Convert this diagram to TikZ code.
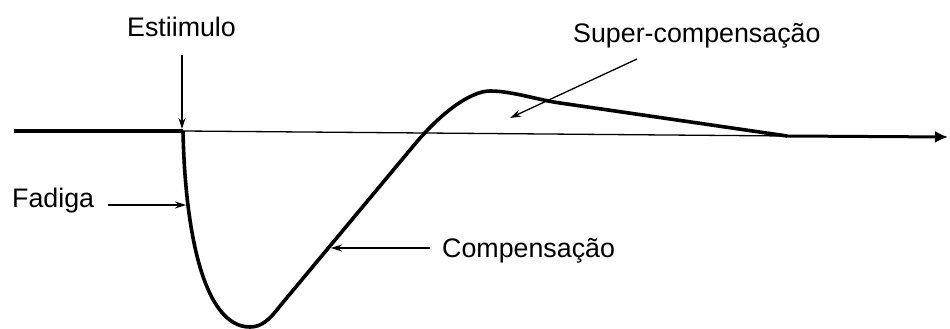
\documentclass[tikz,border=0pt]{standalone}
\usepackage{fontspec}
\setmainfont{Liberation Sans}
\usetikzlibrary{arrows.meta}
\begin{document}
\begin{tikzpicture}[x=1pt,y=1pt,
  lbl/.style={inner sep=0pt,font=\fontsize{26.8}{30}\selectfont},
  thin line/.style={line width=1.3pt,black},
  thick line/.style={line width=3.6pt,black,line join=round},
  pointer/.style={line width=1.3pt,-{Stealth[length=11pt,width=7pt]}}]
\useasboundingbox (0,0) rectangle (950,329);
% coordinates
\coordinate (L) at (14,198);
\coordinate (S) at (183,198);
\coordinate (E) at (787,193);
\coordinate (R) at (948,192);
% baseline
\draw[thick line] (L) -- (S);
\draw[thin line] (S) -- (E);
\draw[line width=3pt,-{Latex[length=13pt,width=12pt]}] (E) -- (R);
% response curve
\draw[thick line] (S) .. controls (185,100) and (203,2) .. (250,2)
  .. controls (262,2) and (270,10) .. (280,23)
  -- (415,185)
  .. controls (440,215) and (470,238) .. (490,238)
  .. controls (512,238) and (538,229) .. (560,226)
  -- (E);
% labels
\node[lbl,anchor=base] (est) at (181.5,292) {Estiimulo};
\node[lbl,anchor=base west] (fad) at (12,121) {Fadiga};
\node[lbl,anchor=base west] (comp) at (442,71) {Compensação};
\node[lbl,anchor=base west] (sup) at (573,286) {Super-compensação};
% pointer ends
\coordinate (estA) at (182,274);
\coordinate (estB) at (182,200);
\coordinate (fadA) at (108,124);
\coordinate (fadB) at (186,124);
\coordinate (compA) at (430,81);
\coordinate (compB) at (331,81);
\coordinate (supA) at (637,270);
\coordinate (supB) at (510,211);
\draw[pointer] (estA) -- (estB);
\draw[pointer] (fadA) -- (fadB);
\draw[pointer] (compA) -- (compB);
\draw[pointer] (supA) -- (supB);
\end{tikzpicture}
\end{document}
